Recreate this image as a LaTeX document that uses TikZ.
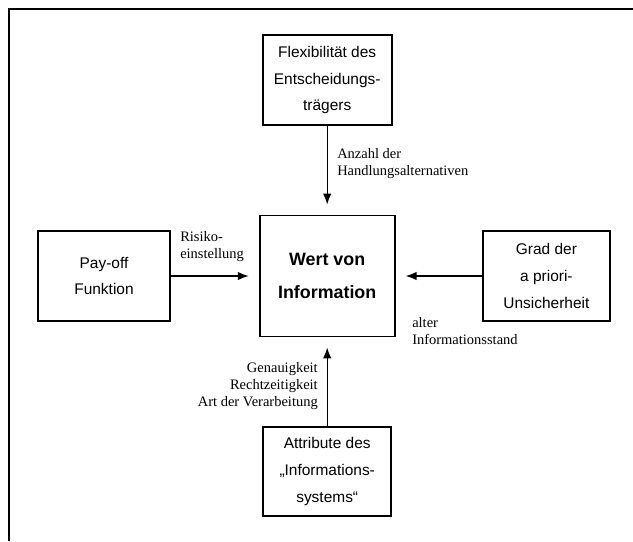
\documentclass[tikz,border=0pt]{standalone}
\usepackage{fontspec}
\setmainfont{Liberation Serif}
\setsansfont{Liberation Sans}
\usepackage{tikz}
\usetikzlibrary{arrows.meta,positioning}
\tikzset{
  info-box/.style={draw=black, fill=white, line width=1.3pt, align=center,
    font=\sffamily\fontsize{11}{19}\selectfont, inner sep=2pt},
  info-core/.style={info-box, font=\sffamily\bfseries\fontsize{12.7}{23.5}\selectfont},
  info-label/.style={font=\rmfamily\fontsize{10.3}{12.1}\selectfont, inner sep=0pt},
  info-arrow/.style={-{Latex[length=7.8pt,width=6pt]}, line width=1pt, shorten >=0.25cm}
}

\begin{document}
\begin{tikzpicture}
  \useasboundingbox (0,0) rectangle (15.825,-13.525);
  % frame (top and left edge only)
  \coordinate (frame-tr) at (15.825,-0.225);
  \coordinate (frame-tl) at (0.225,-0.225);
  \coordinate (frame-bl) at (0.225,-13.525);
  \draw[line width=1.4pt] (frame-tr) -- (frame-tl) -- (frame-bl);
  % boxes
  \node[info-core, minimum width=3.375cm, minimum height=3.025cm] (wert) at (8.18,-6.9) {Wert von\\Information};
  \node[info-box, minimum width=3.225cm, minimum height=2.25cm] (flex) at (8.18,-2.0) {Flexibilität des\\Entscheidungs-\\trägers};
  \node[info-box, minimum width=3.3cm, minimum height=2.25cm] (payoff) at (2.6,-6.9) {Pay-off\\Funktion};
  \node[info-box, minimum width=3.175cm, minimum height=2.25cm] (grad) at (13.66,-6.9) {Grad der\\a priori-\\Unsicherheit};
  \node[info-box, minimum width=3.2cm, minimum height=2.225cm] (attr) at (8.18,-11.79) {Attribute des\\„Informations-\\systems“};
  % connectors
  \draw[info-arrow] (flex.south) -- (wert.north);
  \draw[info-arrow] (payoff.east) -- (wert.west);
  \draw[info-arrow] (grad.west) -- (wert.east);
  \draw[info-arrow] (attr.north) -- (wert.south);
  % labels
  \node[info-label, align=left, anchor=west] (anzahl) at (8.425,-4.09) {Anzahl der\\Handlungsalternativen};
  \node[info-label, align=left, anchor=west] (risiko) at (4.5,-6.16) {Risiko-\\einstellung};
  \node[info-label, align=left, anchor=west] (alter) at (10.3,-8.275) {alter\\Informationsstand};
  \node[info-label, align=right, anchor=east] (genau) at (7.95,-9.65) {Genauigkeit\\Rechtzeitigkeit\\Art der Verarbeitung};
\end{tikzpicture}
\end{document}
